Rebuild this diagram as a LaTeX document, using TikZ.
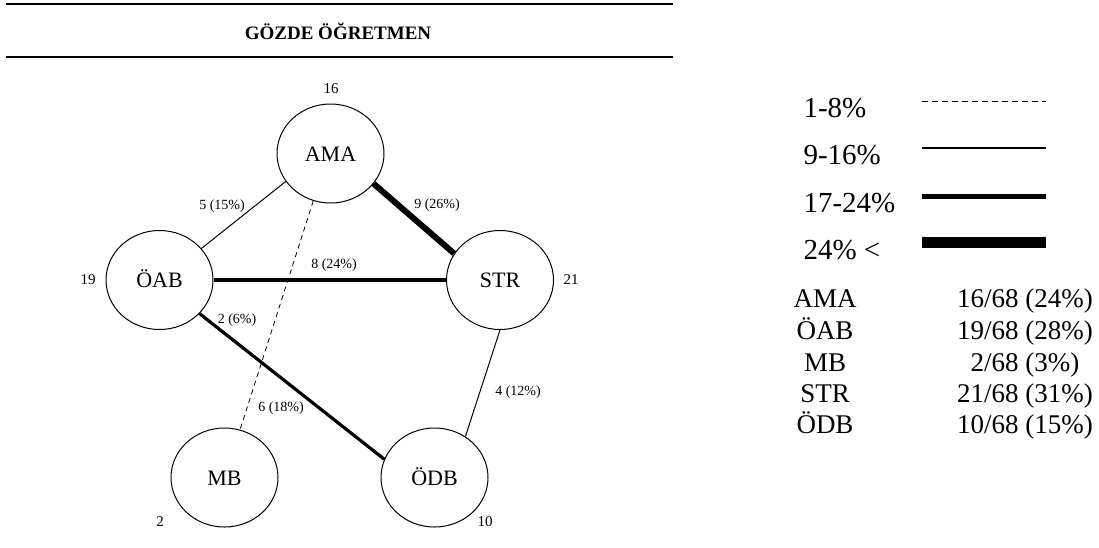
\documentclass[tikz,border=0pt]{standalone}
\usepackage{fontspec}
\setmainfont{Liberation Serif}
\usetikzlibrary{shapes.geometric}
\begin{document}
\begin{tikzpicture}[x=1pt,y=-1pt,
  actor/.style={ellipse,draw,line width=1pt,minimum width=107pt,minimum height=99pt,inner sep=0pt,text height=15pt,text depth=0pt,font=\fontsize{22}{26}\selectfont},
  cnt/.style={font=\fontsize{15}{18}\selectfont},
  elab/.style={font=\fontsize{14}{16}\selectfont},
  wa/.style={line width=0.8pt,dash pattern=on 5pt off 4pt},
  wb/.style={line width=1pt},
  wc/.style={line width=3.2pt},
  wd/.style={line width=6pt},
  rule/.style={line width=1.6pt},
  leg/.style={font=\fontsize{29}{32}\selectfont,anchor=west},
  tab/.style={font=\fontsize{27}{30}\selectfont,text height=18pt,text depth=0pt}]
\useasboundingbox (0,0) rectangle (1099,547);
% header
\draw[rule] (6,4) -- (673,4);
\draw[rule] (6,57) -- (673,57);
\node[font=\bfseries\fontsize{19}{22}\selectfont] (title) at (338,31) {GÖZDE ÖĞRETMEN};
% actors
\node[actor] (AMA) at (330.5,153.5) {AMA};
\node[actor] (OAB) at (159.5,280) {ÖAB};
\node[actor] (STR) at (500,280) {STR};
\node[actor] (MB) at (224.5,477.5) {MB};
\node[actor] (ODB) at (434.5,477.5) {ÖDB};
% counts
\node[cnt] (cAMA) at (331,89) {16};
\node[cnt] (cOAB) at (88,280) {19};
\node[cnt] (cSTR) at (571,280) {21};
\node[cnt] (cMB) at (160,522) {2};
\node[cnt] (cODB) at (485,522) {10};
% edges
\draw[wb] (AMA.212) -- (OAB.37);
\draw[wd] (AMA.-35) -- (STR.150);
\draw[wc] (OAB.east) -- (STR.west);
\draw[wa] (AMA.250) -- (MB.72);
\draw[wc] (OAB.-40) -- (ODB.160);
\draw[wb] (STR.-90) -- (ODB.53);
% edge labels
\node[elab] (l1) at (222,206) {5 (15\%)};
\node[elab] (l2) at (437,205) {9 (26\%)};
\node[elab] (l3) at (334,265) {8 (24\%)};
\node[elab] (l4) at (237,320) {2 (6\%)};
\node[elab] (l5) at (281,408) {6 (18\%)};
\node[elab] (l6) at (518,392) {4 (12\%)};
% legend
\node[leg] (g1) at (800,108) {1-8\%};
\node[leg] (g2) at (800,155) {9-16\%};
\node[leg] (g3) at (800,203) {17-24\%};
\node[leg] (g4) at (800,250) {24\% <};
\draw[line width=1pt,dash pattern=on 6pt off 4pt] (922,101) -- (1046,101);
\draw[line width=1.3pt] (922,148) -- (1046,148);
\draw[line width=5pt] (922,196) -- (1046,196);
\draw[line width=11pt] (922,242) -- (1046,242);
% table
\node[tab] (t1) at (825,298) {AMA};
\node[tab] (t2) at (825,330) {ÖAB};
\node[tab] (t3) at (825,362) {MB};
\node[tab] (t4) at (825,393) {STR};
\node[tab] (t5) at (825,424) {ÖDB};
\node[tab] (v1) at (1025,298) {16/68 (24\%)};
\node[tab] (v2) at (1025,330) {19/68 (28\%)};
\node[tab] (v3) at (1025,362) {2/68 (3\%)};
\node[tab] (v4) at (1025,393) {21/68 (31\%)};
\node[tab] (v5) at (1025,424) {10/68 (15\%)};
\end{tikzpicture}
\end{document}
